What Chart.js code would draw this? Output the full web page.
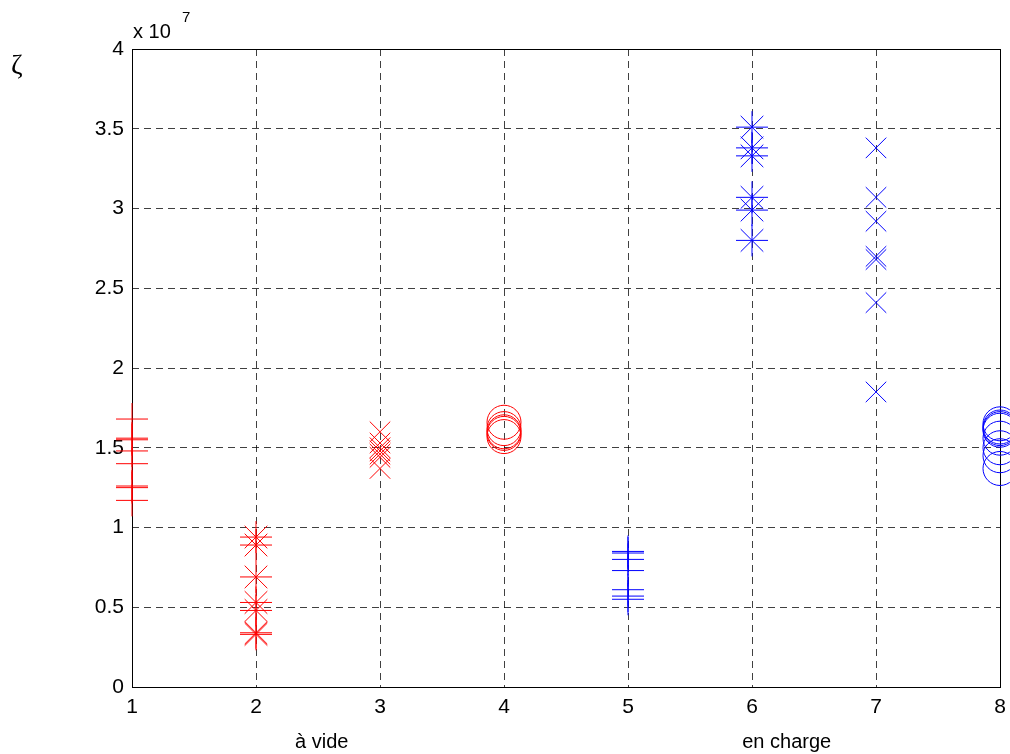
<!DOCTYPE html>
<html>
<head>
<meta charset="utf-8">
<script src="https://cdn.jsdelivr.net/npm/chart.js@4"></script>
<style>
  html, body { margin: 0; padding: 0; background: #fff; }
</style>
</head>
<body>
<canvas id="graphCanvas" width="1010" height="754"></canvas>
<script>
// values in units of 10^7
const positions = [1, 2, 3, 4, 5, 6, 7, 8];
const videPlus     = [1.68, 1.56, 1.55, 1.48, 1.40, 1.26, 1.25, 1.17];
const videStar     = [0.94, 0.89, 0.69, 0.53, 0.48, 0.34, 0.33];
const videCross    = [1.60, 1.53, 1.50, 1.48, 1.46, 1.44, 1.37];
const videCircle   = [1.66, 1.62, 1.60, 1.59, 1.57];
const chargePlus   = [0.85, 0.84, 0.80, 0.73, 0.61, 0.57, 0.55];
const chargeStar   = [3.51, 3.38, 3.33, 3.07, 2.99, 2.80];
const chargeCross  = [3.38, 3.07, 2.92, 2.70, 2.68, 2.41, 1.85];
const chargeCircle = [1.65, 1.63, 1.62, 1.61, 1.56, 1.50, 1.45, 1.37];
const yTicks = [0, 0.5, 1, 1.5, 2, 2.5, 3, 3.5, 4];
const groupLabels = ['à vide', 'en charge'];

const red = '#ff0000', blue = '#0000ff';
const sans = '"Liberation Sans", Arial, sans-serif';

function series(pos, values, style, radius, color) {
  return {
    data: values.map(v => ({ x: pos, y: v })),
    pointStyle: style,
    pointRadius: radius,
    pointBorderWidth: 1,
    borderColor: color,
    backgroundColor: 'rgba(0,0,0,0)',
    showLine: false,
    clip: false
  };
}

const datasets = [
  series(positions[0], videPlus, 'cross', 16, red),
  series(positions[1], videStar, 'star', 16, red),
  series(positions[2], videCross, 'crossRot', 14.5, red),
  series(positions[3], videCircle, 'circle', 17, red),
  series(positions[4], chargePlus, 'cross', 16, blue),
  series(positions[5], chargeStar, 'star', 16, blue),
  series(positions[6], chargeCross, 'crossRot', 14.5, blue),
  series(positions[7], chargeCircle, 'circle', 17, blue)
];

// axes box under the markers
const box = {
  id: 'box',
  beforeDatasetsDraw(chart) {
    const ctx = chart.ctx, a = chart.chartArea;
    ctx.save();
    ctx.strokeStyle = '#000';
    ctx.lineWidth = 1;
    ctx.strokeRect(Math.round(a.left) + 0.5, Math.round(a.top) + 0.5,
                   Math.round(a.right - a.left), Math.round(a.bottom - a.top));
    ctx.restore();
  }
};

// exponent, zeta and group labels
const extras = {
  id: 'extras',
  afterDraw(chart) {
    const ctx = chart.ctx, a = chart.chartArea, xs = chart.scales.x;
    ctx.save();
    ctx.fillStyle = '#000';
    ctx.textBaseline = 'alphabetic';
    ctx.textAlign = 'left';
    ctx.font = '20px ' + sans;
    ctx.fillText('x 10', a.left + 1, 38);
    ctx.font = '15px ' + sans;
    ctx.fillText('7', a.left + 50, 22);
    ctx.font = '28px "Liberation Serif", "DejaVu Serif", serif';
    ctx.fillText('ζ', 11, 74);
    ctx.font = '20px ' + sans;
    ctx.textAlign = 'center';
    ctx.fillText(groupLabels[0], xs.getPixelForValue(2.53), 748);
    ctx.fillText(groupLabels[1], xs.getPixelForValue(6.28), 748);
    ctx.restore();
  }
};

new Chart(document.getElementById('graphCanvas'), {
  type: 'scatter',
  data: { datasets: datasets },
  options: {
    responsive: false,
    animation: false,
    events: [],
    layout: { autoPadding: false, padding: { top: 49, right: 10, left: 0, bottom: 0 } },
    plugins: { legend: { display: false }, tooltip: { enabled: false } },
    scales: {
      x: {
        type: 'linear', min: 1, max: 8,
        afterFit: s => { s.height = 67; s.paddingLeft = 0; s.paddingRight = 0; },
        ticks: { stepSize: 1, color: '#000', padding: 8,
                 font: { family: sans, size: 21 } },
        grid: { color: 'rgba(0,0,0,0.75)', drawTicks: false },
        border: { display: false, dash: [7, 5] }
      },
      y: {
        type: 'linear', min: 0, max: 4,
        afterFit: s => { s.width = 132; s.paddingTop = 0; s.paddingBottom = 0; },
        afterBuildTicks: s => { s.ticks = yTicks.map(v => ({ value: v })); },
        ticks: { color: '#000', padding: 8, callback: v => String(v),
                 font: { family: sans, size: 21 } },
        grid: { color: 'rgba(0,0,0,0.75)', drawTicks: false },
        border: { display: false, dash: [7, 5] }
      }
    }
  },
  plugins: [box, extras]
});
</script>
</body>
</html>
